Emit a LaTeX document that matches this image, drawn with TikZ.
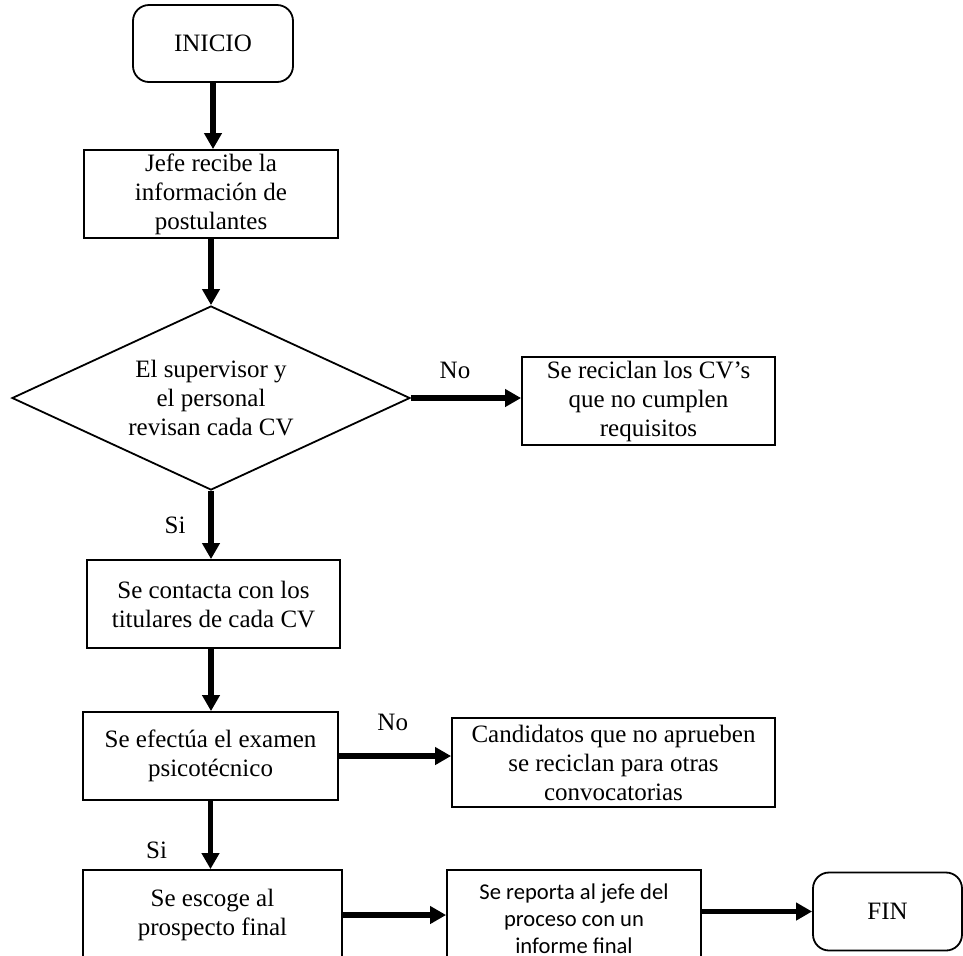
\documentclass[tikz,border=0pt]{standalone}
\usepackage{fontspec}
\setmainfont{Liberation Serif}
\newfontfamily\calibrifont{Carlito}
\usetikzlibrary{arrows.meta,shapes.geometric}

\begin{document}
\begin{tikzpicture}[x=0.5pt, y=-0.5pt, >={Triangle[length=8pt,width=8.5pt]},
term/.style={draw, line width=0.9pt, rounded corners=8pt, align=center, font=\fontsize{12.5}{14.5}\selectfont},
proc/.style={draw, line width=0.9pt, inner sep=1pt, align=center, font=\fontsize{12.5}{14.5}\selectfont},
decide/.style={draw, diamond, line width=0.9pt, aspect=2.17, inner sep=0pt, align=center, font=\fontsize{12.5}{14.5}\selectfont},
flecha/.style={->, line width=2.8pt},
etiq/.style={font=\fontsize{12.5}{14.5}\selectfont}]

\useasboundingbox (0,0) rectangle (963,955);

\node[term, minimum width=80pt, minimum height=38.5pt] (inicio) at (213,43.5) {INICIO};
\node[proc, minimum width=127pt, minimum height=44pt] (jefe) at (211,194) {Jefe recibe la\\información de\\postulantes};
\node[decide, minimum width=199pt, minimum height=92pt] (revision) at (211,398) {El supervisor y\\el personal\\revisan cada CV};
\node[proc, minimum width=126.5pt, minimum height=44pt] (reciclan) at (648.5,401) {Se reciclan los CV’s\\que no cumplen\\requisitos};
\node[proc, minimum width=126.5pt, minimum height=44pt] (contacta) at (213.5,604) {Se contacta con los\\titulares de cada CV};
\node[proc, minimum width=127.5pt, minimum height=44pt] (efectua) at (210.5,756) {Se efectúa el examen\\psicotécnico};
\node[proc, minimum width=161.5pt, minimum height=44.5pt] (candidatos) at (613.5,762.5) {Candidatos que no aprueben\\se reciclan para otras\\convocatorias};
\node[proc, minimum width=129.5pt, minimum height=45pt] (escoge) at (212.5,915) {Se escoge al\\prospecto final};
\node[proc, minimum width=127pt, minimum height=49pt, font=\calibrifont\fontsize{11.3}{13.6}\selectfont] (reporta) at (574,919) {Se reporta al jefe del\\proceso con un\\informe final};
\node[term, minimum width=74.5pt, minimum height=39pt] (fin) at (887.5,911.5) {FIN};

\draw[flecha] (inicio.south) -- (inicio.south |- jefe.north);
\draw[flecha] (jefe.south -| revision.north) -- (revision.north);
\draw[flecha] (revision.east) -- node[etiq, pos=0.4, above=5pt] {No} (revision.east -| reciclan.west);
\draw[flecha] (revision.south) -- node[etiq, pos=0.5, left=8pt] {Si} (revision.south |- contacta.north);
\draw[flecha] (contacta.south -| revision.south) -- (efectua.north -| revision.south);
\draw[flecha] (efectua.east) -- node[etiq, pos=0.48, above=8pt] {No} (efectua.east -| candidatos.west);
\draw[flecha] (efectua.south) -- node[etiq, pos=0.73, left=17pt] {Si} (efectua.south |- escoge.north);
\draw[flecha] (escoge.east) -- (escoge.east -| reporta.west);
\draw[flecha] (fin.west -| reporta.east) -- (fin.west);
\end{tikzpicture}
\end{document}
